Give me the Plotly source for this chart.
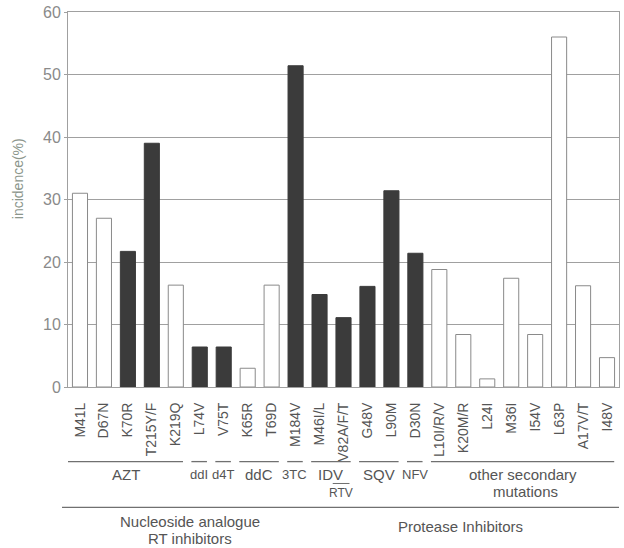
import plotly.graph_objects as go

# Mutation incidence (%) by drug-resistance mutation
mutations = ["M41L", "D67N", "K70R", "T215Y/F", "K219Q", "L74V", "V75T", "K65R", "T69D",
             "M184V", "M46I/L", "V82A/F/T", "G48V", "L90M", "D30N", "L10I/R/V", "K20M/R",
             "L24I", "M36I", "I54V", "L63P", "A17V/T", "I48V"]
incidence = [31, 27, 21.7, 39, 16.3, 6.4, 6.4, 3, 16.3,
             51.4, 14.8, 11.1, 16.1, 31.4, 21.4, 18.8, 8.4,
             1.3, 17.4, 8.4, 56, 16.2, 4.7]
# True = primary mutation (dark bar), False = other (open bar)
primary = [False, False, True, True, False, True, True, False, False,
           True, True, True, True, True, True, False, False,
           False, False, False, False, False, False]

# Drug groups: (label, first index, last index)
drug_groups = [("AZT", 0, 4), ("ddI", 5, 5), ("d4T", 6, 6), ("ddC", 7, 8), ("3TC", 9, 9),
               ("IDV", 10, 11), ("SQV", 12, 13), ("NFV", 14, 14),
               ("other secondary", 15, 22)]
y_ticks = [0, 10, 20, 30, 40, 50, 60]

DARK = "#3b3b3b"
GRID = "#a0a0a0"
RULE = "#707070"
TEXT = "#555555"
FONT = "Liberation Sans, Arial, sans-serif"
NARROW = "Liberation Sans Narrow, Liberation Sans, Arial, sans-serif"

BOTTOM = 387      # pixel row of the x axis
PLOT_H = 377      # plot height in pixels


def py(pix):
    """Paper y for a pixel row below the plot."""
    return -(pix - BOTTOM) / PLOT_H


fig = go.Figure()
fig.add_trace(go.Bar(
    x=mutations, y=incidence, width=0.63,
    marker=dict(color=[DARK if p else "white" for p in primary],
                line=dict(color=[DARK if p else "#8a8a8a" for p in primary], width=1)),
    hoverinfo="x+y",
))

shapes = []
annotations = []
n = len(mutations)


def label(text, x, ypix, size=15, family=FONT, xref="x"):
    annotations.append(dict(text=text, xref=xref, yref="paper", x=x, y=py(ypix),
                            yanchor="middle", xanchor="center", showarrow=False,
                            font=dict(size=size, color=TEXT, family=family)))


for name, a, b in drug_groups:
    x0 = -0.5 if a == 0 else a - 0.35
    x1 = b + 0.3
    shapes.append(dict(type="line", xref="x", yref="paper", x0=x0, x1=x1,
                       y0=py(462), y1=py(462), line=dict(color=RULE, width=1.3)))
    small = name in ("ddI", "d4T", "3TC", "NFV")
    label(name, (x0 + x1) / 2, 475, size=13 if small else 15,
          family=NARROW if small else FONT)
label("mutations", 18.6, 492)

# RTV sub-group under V82A/F/T
shapes.append(dict(type="line", xref="x", yref="paper", x0=10.55, x1=11.25,
                   y0=py(484), y1=py(484), line=dict(color=RULE, width=1)))
label("RTV", 10.9, 494, size=12, family=NARROW)

# Drug class separator and labels
shapes.append(dict(type="line", xref="paper", yref="paper", x0=-6 / 552, x1=1,
                   y0=py(508), y1=py(508), line=dict(color=RULE, width=1.3)))
label("Nucleoside analogue", 4.6, 522)
label("RT inhibitors", 4.6, 539)
label("Protease Inhibitors", 15.9, 527)

# y-axis title
annotations.append(dict(text="incidence(%)", xref="paper", yref="paper",
                        x=-50 / 552, y=(BOTTOM - 178) / PLOT_H, textangle=-90,
                        xanchor="center", yanchor="middle", showarrow=False,
                        font=dict(size=14, color="#8c968c", family=FONT)))

fig.update_layout(
    width=624, height=548,
    margin=dict(l=68, r=4, t=10, b=161),
    paper_bgcolor="white", plot_bgcolor="white",
    showlegend=False, bargap=0.37,
    shapes=shapes, annotations=annotations,
    font=dict(family=FONT, color=TEXT),
)
fig.update_xaxes(
    type="category", range=[-0.5, n - 0.5], tickangle=-90,
    tickfont=dict(size=14, color=TEXT, family=FONT),
    showline=True, linecolor=GRID, linewidth=1, mirror=True,
    ticks="outside", ticklen=9, tickcolor="rgba(0,0,0,0)",
    showgrid=False, zeroline=False,
)
fig.update_yaxes(
    range=[0, 60], tickvals=y_ticks,
    tickfont=dict(size=16, color="#8a8a8a", family=FONT),
    showline=True, linecolor=GRID, linewidth=1, mirror=True,
    ticks="outside", ticklen=3, tickcolor=GRID,
    showgrid=True, gridcolor=GRID, gridwidth=1, zeroline=False,
)

fig.write_html("out.html")
